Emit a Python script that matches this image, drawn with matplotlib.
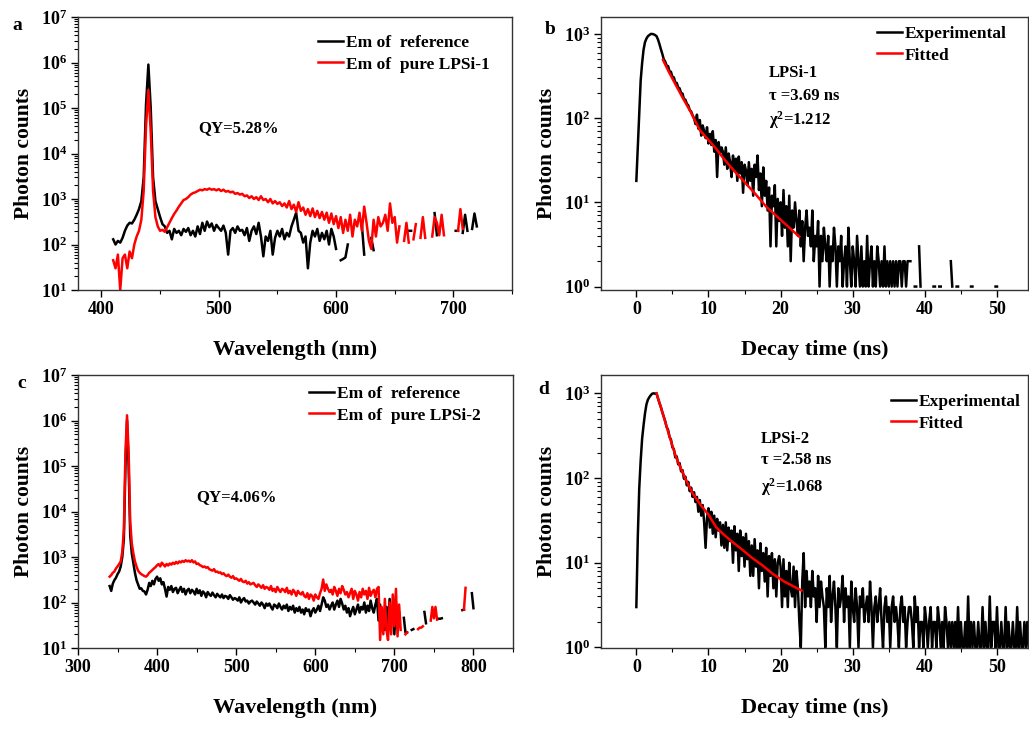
import numpy as np
import matplotlib
matplotlib.use("Agg")
import matplotlib.pyplot as plt
from matplotlib.ticker import FuncFormatter, MultipleLocator, LogLocator, NullFormatter

nan = np.nan

# ---------- a: emission spectra, reference vs LPSi-1 (2 nm steps, 410-720 nm)
wl_a = np.arange(410, 722, 2)
ref_a = [130, 100, 120, 110, 140, 200, 260, 300, 290, 350,
         450, 600, 900, 3000, 1.2e5, 9e5, 1e5, 3000, 900, 600,
         400, 280, 250, 180, 200, 130, 220, 180, 200, 160,
         220, 190, 230, 160, 200, 150, 250, 170, 300, 200,
         320, 240, 290, 200, 270, 230, 200, 260, 180, 60,
         200, 230, 180, 250, 200, 210, 160, 230, 120, 200,
         250, 170, 300, 150, 55, 150, 120, 200, 60, 140,
         200, 150, 220, 130, 180, 150, 250, 350, 500, 200,
         180, 110, 150, 30, 110, 200, 150, 220, 120, 180,
         130, 200, 100, 220, 150, 80, nan, 45, 48, 52,
         100, nan, nan, nan, nan, nan, 270, 60, nan, nan,
         140, 75, nan, nan, nan, nan, nan, nan, nan, nan,
         nan, nan, nan, nan, nan, nan, 200, 200, nan, nan,
         nan, nan, nan, nan, nan, nan, nan, 490, 160, nan,
         nan, nan, nan, nan, nan, nan, 200, 200, nan, 180,
         450, 200, nan, 220, 480, 250]
lpsi1_em = [45, 30, 60, 10, 50, 60, 30, 70, 50, 100,
            150, 200, 350, 1500, 4e4, 2.5e5, 3e4, 1500, 400, 250,
            200, 210, 190, 240, 300, 380, 470, 560, 680, 800,
            950, 1000, 1100, 1250, 1350, 1400, 1500, 1600, 1550, 1650,
            1600, 1700, 1600, 1650, 1550, 1650, 1500, 1600, 1450, 1500,
            1400, 1450, 1300, 1350, 1250, 1300, 1150, 1200, 1050, 1150,
            1000, 1100, 950, 1150, 950, 1000, 850, 1000, 800, 900,
            780, 850, 700, 800, 650, 900, 600, 750, 520, 850,
            550, 650, 450, 600, 420, 620, 400, 550, 380, 520,
            350, 500, 300, 480, 280, 420, 230, 400, 180, 350,
            200, 450, 150, 350, 250, 500, 200, 680, 300, 120,
            80, 350, 150, 400, 250, 300, 450, 200, 800, 300,
            400, 110, 250, nan, 120, 300, 110, nan, 130, 280,
            nan, 140, 400, 140, nan, nan, 150, 400, 300, 160,
            450, 160, nan, nan, nan, nan, nan, 200, 600, 220,
            nan, nan, nan, nan, nan, nan]

# ---------- c: emission spectra, reference vs LPSi-2 (2 nm steps, 340-800 nm)
wl_c = np.arange(340, 802, 2)
ref_c = [230, 180, 260, 310, 350, 420, 480, 620, 1000, 2500,
         1e5, 1.0e6, 1e5, 3000, 1200, 740, 450, 310, 250, 200,
         205, 180, 175, 150, 190, 270, 230, 300, 250, 330,
         370, 300, 340, 250, 280, 200, 135, 220, 190, 230,
         170, 200, 210, 160, 190, 220, 170, 200, 150, 185,
         200, 160, 190, 175, 150, 200, 160, 185, 140, 175,
         160, 130, 170, 150, 140, 165, 145, 130, 155, 140,
         130, 150, 125, 140, 135, 120, 145, 130, 115, 125,
         120, 110, 130, 100, 115, 125, 105, 110, 95, 105,
         110, 100, 90, 105, 95, 85, 100, 90, 75, 95,
         85, 95, 80, 70, 90, 85, 75, 95, 80, 70,
         85, 75, 90, 65, 80, 70, 85, 60, 75, 65,
         80, 60, 70, 55, 75, 65, 70, 50, 65, 75,
         60, 70, 85, 65, 90, 130, 110, 80, 90, 70,
         85, 100, 70, 90, 110, 80, 120, 95, 70, 85,
         60, 75, 50, 65, 80, 55, 70, 90, 60, 80,
         70, 100, 60, 85, 65, 110, 75, 60, 90, 120,
         40, 90, 30, 60, 25, 80, 35, 120, 40, 70,
         20, 100, 30, 60, nan, nan, 46, 22, 22, nan,
         nan, 25, 26, nan, nan, nan, nan, nan, nan, 62,
         35, nan, nan, nan, nan, nan, nan, nan, 44, 44,
         45, nan, nan, nan, nan, nan, nan, nan, nan, nan,
         nan, nan, nan, 68, 70, nan, nan, nan, nan, 160,
         75]
lpsi2_em = [370, 400, 450, 480, 560, 620, 700, 800, 1300, 4000,
            2e5, 1.3e6, 2e5, 6000, 2000, 1200, 800, 620, 500, 450,
            420, 400, 380, 370, 400, 450, 480, 520, 560, 600,
            660, 700, 620, 750, 680, 620, 700, 650, 720, 680,
            750, 700, 780, 720, 800, 760, 820, 780, 850, 800,
            830, 780, 850, 760, 800, 700, 720, 660, 640, 600,
            620, 580, 600, 540, 520, 500, 540, 470, 480, 450,
            460, 420, 440, 400, 380, 410, 370, 350, 380, 330,
            340, 320, 300, 330, 290, 280, 300, 260, 280, 250,
            260, 270, 240, 220, 250, 230, 210, 240, 200, 220,
            210, 190, 230, 180, 200, 170, 220, 190, 170, 200,
            190, 170, 210, 160, 180, 150, 190, 170, 140, 180,
            160, 150, 170, 140, 130, 160, 120, 150, 140, 110,
            150, 130, 120, 160, 200, 320, 180, 250, 200, 170,
            190, 150, 220, 180, 140, 200, 160, 230, 190, 150,
            170, 130, 160, 200, 120, 180, 150, 110, 170, 130,
            200, 150, 180, 120, 210, 140, 170, 190, 130, 200,
            220, 15, 80, 20, 120, 25, 15, 100, 20, 150,
            30, 200, 18, 90, 25, nan, nan, 20, 22, nan,
            nan, nan, nan, nan, nan, 26, 28, 28, 30, nan,
            nan, nan, nan, 40, 80, 45, 80, 42, nan, nan,
            nan, nan, nan, nan, nan, nan, nan, nan, nan, nan,
            nan, nan, nan, nan, 70, 210, nan, nan, nan, nan,
            nan]

# ---------- b: decay of LPSi-1 (0.2 ns bins, 0-50 ns)
t_b = np.linspace(0, 50, 251)
decay_b = [18, 45, 110, 280, 450, 650, 800, 880, 940, 970, 1000, 1000, 990, 970, 940, 860, 760, 660, 580, 500,
           470, 420, 415, 360, 355, 310, 305, 265, 262, 232, 226, 198, 196, 168, 166, 148, 142, 125, 120, 108,
           100, 85, 110, 75, 95, 62, 82, 70, 58, 78, 50, 65, 48, 70, 40, 55, 20, 52, 38, 45,
           40, 28, 45, 25, 38, 30, 20, 36, 24, 33, 18, 35, 22, 30, 13, 28, 24, 16, 30, 18,
           25, 12, 28, 20, 36, 14, 22, 9, 26, 12, 18, 8, 15, 3, 12, 9, 16, 3, 11, 6,
           10, 4, 14, 5, 9, 3, 12, 2, 8, 5, 10, 6, 4, 8, 3, 6, 2, 5, 8, 4,
           5, 3, 8, 2, 4, 3, 6, 1, 4, 2, 5, 3, 2, 4, 1, 3, 2, 5, 3, 1,
           3, 2, 4, 1, 2, 3, 1, 5, 2, 1, 3, 2, 1, 4, 2, 1, 3, 1, 2, 1,
           4, 1, 2, 3, 1, 2, 1, 3, 2, 1, 2, 1, 3, 1, 2, 1, 2, 1, 2, 1,
           2, 1, 2, 2, 1, 2, 2, 1, 2, 2, 2, 0, 0, 1, 1, 0, 3, 1, 0, 1,
           0, 0, 0, 0, 0, 0, 1, 1, 0, 0, 1, 1, 0, 0, 0, 0, 0, 0, 2, 1,
           0, 0, 1, 1, 0, 0, 0, 0, 0, 0, 0, 0, 1, 1, 0, 0, 0, 0, 0, 0,
           0, 0, 0, 0, 0, 0, 0, 0, 0, 1, 1]
fit_t_b = [3.7, 4.5, 5.5, 6.5, 7.5, 8.8, 10, 11, 12, 13.4, 15, 16.5, 18, 19.5, 21, 22.6]
fit_b = [490, 355, 245, 170, 120, 72, 55, 44, 34, 24.5, 17.4, 12.6, 8.9, 6.8, 5.2, 3.9]

# ---------- d: decay of LPSi-2 (0.2 ns bins, 0-55 ns)
t_d = np.linspace(0, 55, 276)
decay_d = [3, 20, 75, 160, 290, 420, 580, 740, 840, 900, 950, 990, 1000, 990, 1000, 870, 770, 690, 600, 530,
           470, 400, 370, 305, 285, 230, 220, 175, 180, 145, 150, 120, 124, 98, 104, 82, 90, 70, 77, 60,
           68, 52, 60, 40, 55, 36, 48, 30, 15, 34, 44, 26, 40, 22, 36, 20, 33, 24, 30, 16,
           28, 15, 30, 14, 26, 18, 24, 10, 27, 14, 22, 8, 24, 12, 20, 9, 22, 11, 18, 7,
           16, 7, 19, 9, 14, 5, 17, 8, 13, 6, 15, 4, 12, 7, 13, 5, 11, 4, 10, 12,
           9, 3, 11, 4, 8, 3, 10, 5, 4, 9, 3, 8, 5, 2, 1, 6, 13, 3, 8, 4,
           6, 3, 8, 4, 5, 2, 7, 3, 6, 4, 3, 1, 5, 3, 7, 2, 4, 6, 3, 1,
           5, 3, 4, 7, 2, 5, 3, 4, 1, 6, 3, 2, 5, 3, 1, 4, 3, 5, 2, 3,
           4, 2, 6, 3, 1, 3, 4, 2, 3, 5, 2, 1, 3, 4, 2, 3, 1, 3, 4, 2,
           3, 2, 1, 3, 4, 2, 3, 1, 2, 3, 3, 2, 1, 4, 2, 3, 1, 2, 2, 1,
           3, 2, 1, 2, 3, 1, 2, 2, 1, 3, 2, 1, 2, 1, 3, 2, 1, 2, 1, 2,
           1, 2, 1, 3, 1, 2, 1, 1, 2, 1, 4, 1, 2, 1, 2, 1, 1, 2, 1, 1,
           3, 1, 2, 1, 1, 4, 1, 2, 2, 1, 3, 1, 1, 2, 1, 1, 3, 1, 2, 1,
           1, 2, 1, 1, 3, 1, 2, 1, 1, 2, 1, 2, 1, 1, 2, 1]
fit_t_d = [2.8, 3.5, 4.0, 4.5, 5.0, 5.5, 6.0, 6.5, 7.0, 7.85, 9.0, 10.0, 11.1, 12.0, 13.0, 14.8, 16.0, 17.5, 18.9, 20.5, 22.9]
fit_d = [1000, 640, 460, 330, 240, 177, 140, 112, 90, 65, 47, 37, 26, 22, 18.5, 14, 11.5, 9.3, 7.4, 6.0, 4.7]

# ---------------------------------------------------------------
W, H = 1029, 729
plt.rcParams['font.family'] = 'Liberation Serif'
plt.rcParams['font.weight'] = 'bold'
plt.rcParams['mathtext.fontset'] = 'custom'
plt.rcParams['mathtext.rm'] = 'Liberation Serif:bold'
plt.rcParams['mathtext.bf'] = 'Liberation Serif:bold'
plt.rcParams['mathtext.it'] = 'Liberation Serif:bold:italic'

fig = plt.figure(figsize=(W / 100, H / 100), dpi=100)


def px_axes(l, t, r, b):
    return fig.add_axes([l / W, 1 - b / H, (r - l) / W, (b - t) / H])


def ftext(x, y, s, size=12, **kw):
    fig.text(x / W, 1 - y / H, s, fontsize=size, fontweight='bold', va='center', **kw)


def pow10(v, pos):
    return r'$\mathbf{10^{%d}}$' % round(np.log10(v))


def style(ax, xlabel):
    ax.set_yscale('log', nonpositive='mask')
    ax.yaxis.set_major_locator(LogLocator(base=10, numticks=20))
    ax.yaxis.set_minor_locator(LogLocator(base=10, subs=np.arange(2, 10), numticks=20))
    ax.yaxis.set_major_formatter(FuncFormatter(pow10))
    ax.yaxis.set_minor_formatter(NullFormatter())
    ax.tick_params(which='major', direction='out', length=5, width=1, labelsize=13, pad=3)
    ax.tick_params(which='minor', direction='out', length=3, width=0.8)
    ax.set_ylabel('Photon counts', fontsize=15.5, fontweight='bold', labelpad=5)
    ax.set_xlabel(xlabel, fontsize=16, fontweight='bold', labelpad=16)
    for s in ax.spines.values():
        s.set_linewidth(1.0)
        s.set_color('#333333')


def leg(ax, x, y, size=12.5):
    ax.legend(loc='upper left', bbox_to_anchor=(x / W, 1 - y / H), bbox_transform=fig.transFigure,
              frameon=False, handlelength=1.45, handletextpad=0.15,
              labelspacing=0.3, borderaxespad=0, borderpad=0,
              prop={'weight': 'bold', 'size': size})


LW = 1.8

# a
ax = px_axes(78, 17, 512, 290)
ax.plot(wl_a, ref_a, color='black', lw=LW, label='Em of  reference')
ax.plot(wl_a, lpsi1_em, color='red', lw=LW, label='Em of  pure LPSi-1')
ax.set_xlim(380, 750)
ax.set_ylim(10, 1e7)
ax.xaxis.set_major_locator(MultipleLocator(100))
ax.xaxis.set_minor_locator(MultipleLocator(50))
style(ax, 'Wavelength (nm)')
leg(ax, 318, 35)
ftext(198, 128, 'QY=5.28%')
ftext(12, 25, 'a', 14)

# b
ax = px_axes(601, 17, 1028, 290)
ax.plot(t_b, decay_b, color='black', lw=LW, label='Experimental')
ax.plot(fit_t_b, fit_b, color='red', lw=LW, label='Fitted')
ax.set_xlim(-4.9, 54.3)
ax.set_ylim(0.91, 1590)
ax.xaxis.set_major_locator(MultipleLocator(10))
ax.xaxis.set_minor_locator(MultipleLocator(5))
style(ax, 'Decay time (ns)')
leg(ax, 877, 26)
ftext(769, 73, 'LPSi-1')
ftext(769, 96, 'τ =3.69 ns')
ftext(769, 120, 'χ$^{2}$=1.212')
ftext(545, 30, 'b', 14)

# c
ax = px_axes(78, 375, 513, 648)
ax.plot(wl_c, ref_c, color='black', lw=LW, label='Em of  reference')
ax.plot(wl_c, lpsi2_em, color='red', lw=LW, label='Em of  pure LPSi-2')
ax.set_xlim(300, 850)
ax.set_ylim(10, 1e7)
ax.xaxis.set_major_locator(MultipleLocator(100))
ax.xaxis.set_minor_locator(MultipleLocator(50))
style(ax, 'Wavelength (nm)')
leg(ax, 309, 386)
ftext(196, 497, 'QY=4.06%')
ftext(17, 383, 'c', 14)

# d
ax = px_axes(601, 375, 1028, 648)
ax.plot(t_d, decay_d, color='black', lw=LW, label='Experimental')
ax.plot(fit_t_d, fit_d, color='red', lw=LW, label='Fitted')
ax.set_xlim(-4.9, 54.3)
ax.set_ylim(0.986, 1645)
ax.xaxis.set_major_locator(MultipleLocator(10))
ax.xaxis.set_minor_locator(MultipleLocator(5))
style(ax, 'Decay time (ns)')
leg(ax, 891, 394)
ftext(761, 439, 'LPSi-2')
ftext(761, 460, 'τ =2.58 ns')
ftext(761, 487, 'χ$^{2}$=1.068')
ftext(538, 389, 'd', 14)

fig.savefig('out.png', dpi=100)
